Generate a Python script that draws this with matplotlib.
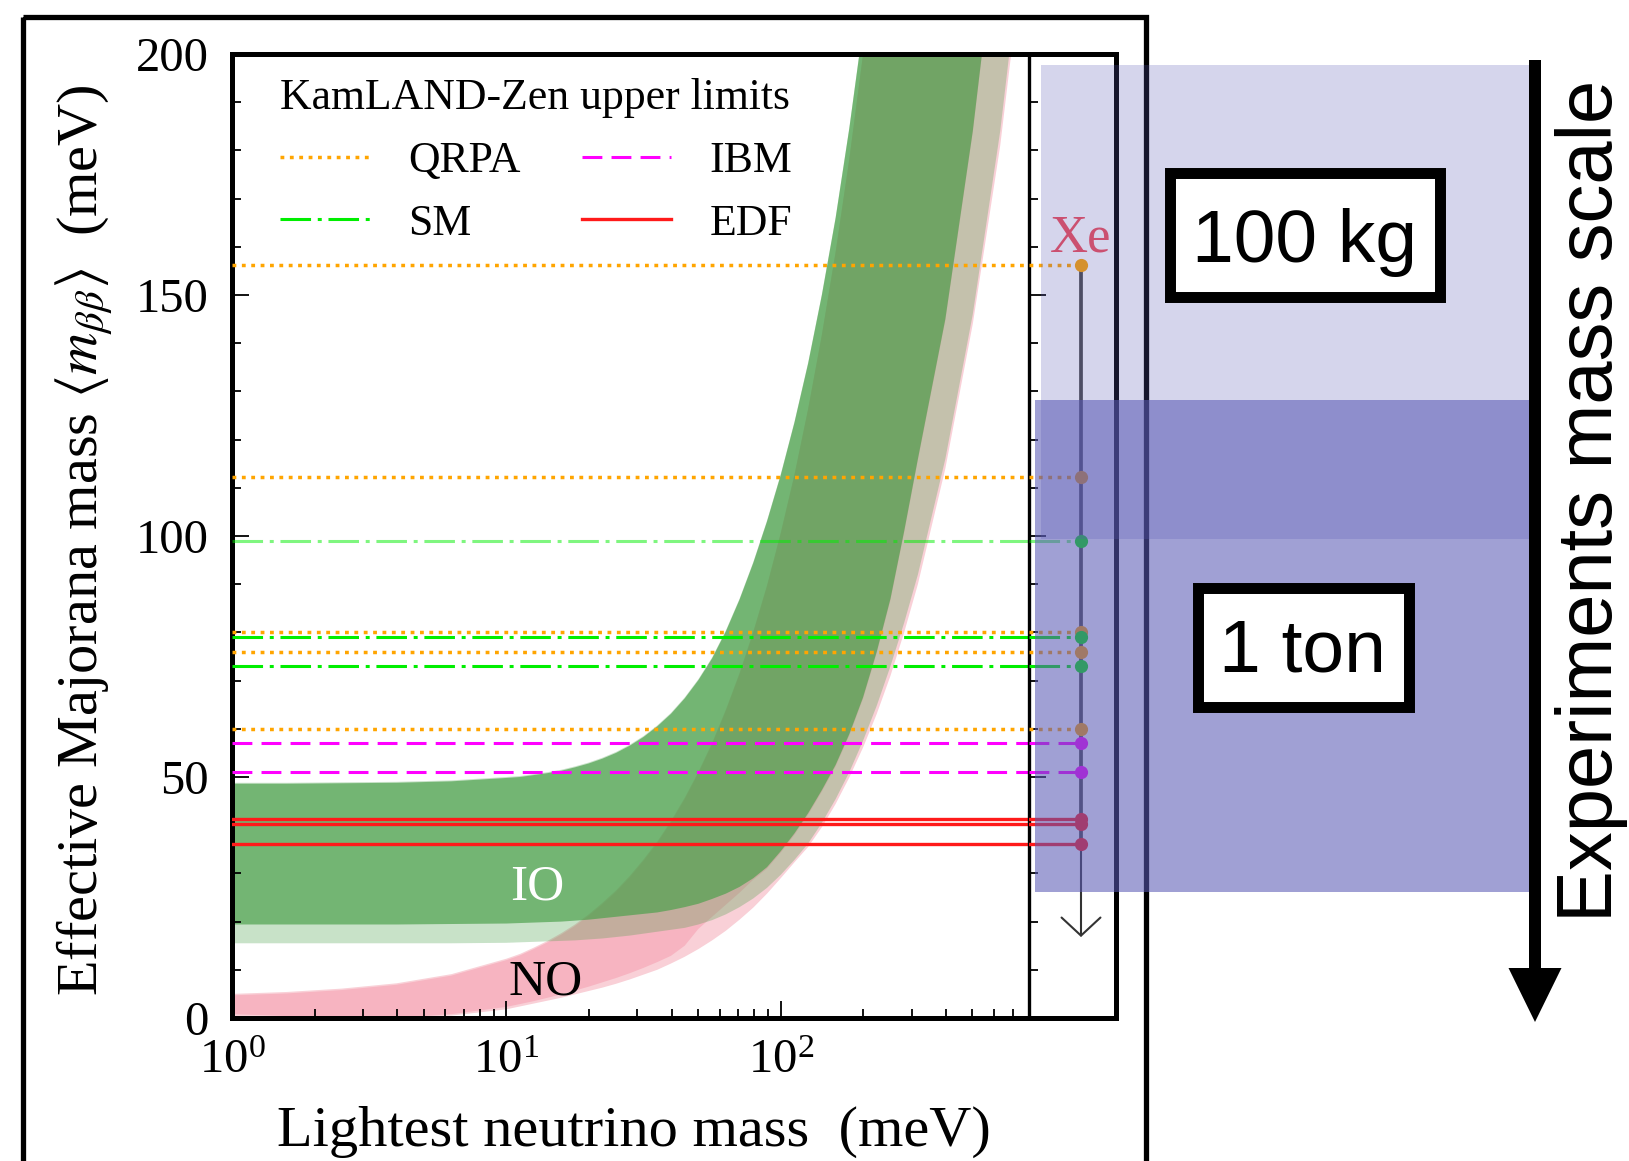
import numpy as np
import matplotlib
matplotlib.use('Agg')
import matplotlib.pyplot as plt
import matplotlib.transforms as mtransforms
from matplotlib.patches import Rectangle, FancyArrow
from matplotlib.lines import Line2D
from matplotlib.ticker import MultipleLocator, LogLocator, NullLocator

plt.rcParams['font.family'] = ['Liberation Serif', 'DejaVu Serif']
plt.rcParams['mathtext.fontset'] = 'stix'

# ---------------- data ----------------
m_lightest = [1, 1.585, 2.512, 3.981, 6.31, 10, 11.22, 12.59, 14.13, 15.85, 17.78, 19.95,
              22.39, 25.12, 28.18, 31.62, 35.48, 39.81, 44.67, 50.12, 56.23, 63.1, 70.79,
              79.43, 89.13, 100, 112.2, 125.9, 141.3, 158.5, 177.8, 199.5, 223.9, 251.2,
              281.8, 316.2, 398.1, 501.2, 631.0, 800]
io_hi = [48.6, 48.6, 48.7, 48.8, 49.1, 49.8, 50.0, 50.4, 50.8, 51.3, 52.0, 52.8, 53.8, 55.0,
         56.5, 58.3, 60.5, 63.1, 66.3, 70.1, 74.6, 80.2, 86.8, 94.4, 103.0, 112.6, 123.5,
         135.8, 150.0, 165.9, 184.5, 205.5, 229.2, 255.9, 286.1, 320.0, 401.2, 503.6, 632.9,
         801.6]
io_lo = [19.4, 19.4, 19.4, 19.4, 19.5, 19.6, 19.7, 19.8, 19.9, 20.0, 20.2, 20.4, 20.7, 21.0,
         21.3, 21.6, 21.9, 22.4, 23.0, 23.7, 24.7, 25.8, 27.2, 29.0, 31.3, 34.6, 38.3, 42.5,
         47.3, 52.5, 58.9, 66.5, 76.0, 87.0, 101.0, 116.0, 145.0, 184.0, 232.0, 294.0]
io3_hi = [48.8, 48.8, 48.9, 49.0, 49.3, 50.0, 50.2, 50.6, 51.0, 51.5, 52.2, 53.0, 54.0, 55.2,
          56.7, 58.5, 60.7, 63.3, 66.5, 70.3, 74.8, 80.4, 87.0, 94.6, 103.2, 112.8, 123.7,
          136.0, 150.2, 166.1, 184.7, 205.7, 229.4, 256.1, 286.3, 320.2, 401.4, 503.8, 633.1,
          801.8]
io3_lo = [15.5, 15.5, 15.5, 15.5, 15.5, 15.6, 15.7, 15.8, 15.9, 16.0, 16.1, 16.3, 16.5, 16.8,
          17.1, 17.5, 17.9, 18.3, 18.7, 19.4, 20.3, 21.5, 23.0, 24.8, 27.0, 29.7, 32.8, 36.2,
          40.5, 45.4, 51.0, 57.5, 64.8, 73.0, 82.0, 92.0, 116.0, 146.0, 184.0, 234.0]
no_hi = [4.7, 5.1, 5.8, 6.9, 8.8, 12.0, 13.0, 14.3, 15.7, 17.3, 19.1, 21.2, 23.6, 26.2,
         29.2, 32.6, 36.3, 40.6, 45.4, 50.8, 56.8, 63.7, 71.3, 79.9, 89.5, 100.4, 112.5,
         126.2, 141.6, 158.7, 178.0, 199.7, 224.0, 251.3, 282.0, 316.3, 398.2, 501.3, 631.1,
         800.0]
no_lo = [0.8, 0.4, 0.0, 0.0, 0.8, 2.3, 2.9, 3.5, 4.2, 4.9, 5.7, 6.5, 7.4, 8.3, 9.3, 10.4,
         11.6, 12.9, 15.0, 18.5, 21.0, 23.5, 26.0, 28.7, 31.0, 34.3, 38.0, 42.2, 47.0, 52.2,
         58.6, 66.2, 75.7, 86.7, 100.7, 115.7, 144.7, 183.7, 231.7, 293.7]
no3_hi = [5.0, 5.4, 6.1, 7.2, 9.1, 12.3, 13.3, 14.6, 16.0, 17.6, 19.4, 21.5, 23.9, 26.5,
          29.5, 32.9, 36.6, 40.9, 45.7, 51.1, 57.1, 64.0, 71.6, 80.2, 89.8, 100.7, 112.8,
          126.5, 141.9, 159.0, 178.3, 200.0, 224.3, 251.6, 282.3, 316.6, 398.5, 501.6, 631.4,
          800.3]
no3_lo = [0.0, 0.0, 0.0, 0.0, 0.5, 1.8, 2.4, 3.0, 3.6, 4.2, 4.9, 5.6, 6.3, 7.1, 8.0, 9.0,
          10.0, 11.3, 12.7, 14.3, 16.1, 18.1, 20.4, 22.9, 25.8, 29.0, 32.3, 35.5, 39.6, 44.4,
          49.9, 56.1, 63.1, 71.0, 80.0, 90.0, 114.0, 144.0, 181.0, 230.0]

models = ['QRPA', 'SM', 'IBM', 'EDF']
limits_qrpa = [156.2, 112.2, 80.1, 75.9, 60.0]
limits_sm = [99.0, 79.0, 73.0]
limits_ibm = [57.0, 51.0]
limits_edf = [41.2, 40.2, 36.0]
limits = {'QRPA': limits_qrpa, 'SM': limits_sm, 'IBM': limits_ibm, 'EDF': limits_edf}
faded = {'SM': [99.0]}
arrow_end = 16.8

styles = {
    'QRPA': dict(color='#ffa500', ls=(0, (1.1, 1.6)), lw=2.5),
    'SM': dict(color='#00ee00', ls=(0, (10, 2.2, 1.3, 2.2)), lw=2.2),
    'IBM': dict(color='#ff00ff', ls=(0, (6.5, 3)), lw=2.2),
    'EDF': dict(color='#ff1a1a', ls='-', lw=2.4),
}

# ---------------- figure ----------------
W, H = 1629, 1161
fig = plt.figure(figsize=(W / 100, H / 100), dpi=100)
px = mtransforms.Affine2D().scale(1 / W, -1 / H).translate(0, 1) + fig.transFigure


def box(x0, x1, ytop, ybot):
    return [x0 / W, 1 - ybot / H, (x1 - x0) / W, (ybot - ytop) / H]


ax = fig.add_axes(box(232, 1028.5, 54, 1018))
axs = fig.add_axes(box(1028.5, 1116, 54, 1018))

m = np.array(m_lightest)
ax.fill_between(m, no3_lo, no3_hi, color='#f9d0d7', lw=0, zorder=1)
ax.fill_between(m, no_lo, no_hi, color='#f7b4c1', lw=0, zorder=1.1)
ax.fill_between(m, io3_lo, io3_hi, color='#4ba04b', alpha=0.3, lw=0, zorder=1.2)
ax.fill_between(m, io_lo, io_hi, color='#4ba04b', alpha=0.68, lw=0, zorder=1.3)

xe = 0.60
for k in models:
    for v in limits[k]:
        a = 0.5 if v in faded.get(k, []) else 1.0
        ax.axhline(v, alpha=a, zorder=3, **styles[k])
        axs.plot([0, xe], [v, v], alpha=a, zorder=3, **styles[k])

all_vals = limits_qrpa + limits_sm + limits_ibm + limits_edf
axs.plot([xe, xe], [min(all_vals), max(all_vals)], color='#4a4a4a', lw=2.7, zorder=2)
for k in models:
    axs.plot([xe] * len(limits[k]), limits[k], 'o', color=styles[k]['color'],
             ms=9.5, mew=0, zorder=4)
axs.annotate('', xy=(xe, arrow_end), xytext=(xe, min(all_vals)),
             arrowprops=dict(arrowstyle='->,head_length=1.3,head_width=1.4',
                             color='#333333', lw=1.5, shrinkA=0, shrinkB=0))
axs.text(xe, 159.0, 'Xe', color='#f24d5a', fontsize=38, ha='center', va='baseline')

ax.text(12.97, 24.5, 'IO', color='white', fontsize=37, ha='center', va='baseline', zorder=4)
ax.text(13.87, 4.8, 'NO', color='black', fontsize=37, ha='center', va='baseline', zorder=4)

# axes styling
ax.set_xscale('log')
ax.set_xlim(1, 800)
ax.set_ylim(0, 200)
ax.xaxis.set_major_locator(LogLocator(base=10, numticks=10))
ax.xaxis.set_minor_locator(LogLocator(base=10, subs=np.arange(2, 10), numticks=20))
ax.yaxis.set_major_locator(MultipleLocator(50))
ax.yaxis.set_minor_locator(MultipleLocator(10))
ax.tick_params(which='both', direction='in', top=False, right=False, width=1.3)
ax.tick_params(which='major', length=12)
ax.tick_params(which='minor', length=6.5)
ax.tick_params(axis='y', which='major', labelsize=35, pad=17)
ax.tick_params(axis='x', which='major', labelsize=35, pad=15)
for s in ['left', 'bottom', 'top']:
    ax.spines[s].set_linewidth(3.6)
ax.spines['right'].set_visible(False)

axs.set_xlim(0, 1)
axs.set_ylim(0, 200)
axs.xaxis.set_major_locator(NullLocator())
axs.yaxis.set_major_locator(MultipleLocator(50))
axs.yaxis.set_minor_locator(MultipleLocator(10))
axs.tick_params(which='both', direction='in', left=True, right=False, labelleft=False, width=1.3)
axs.tick_params(which='major', length=12)
axs.tick_params(which='minor', length=6.5)
for s in ['right', 'bottom', 'top']:
    axs.spines[s].set_linewidth(3.6)
axs.spines['left'].set_linewidth(2.4)

handles = [Line2D([], [], **styles[k]) for k in models]
ax.legend(handles, models, ncol=2, title='KamLAND-Zen upper limits', loc='upper left',
          bbox_to_anchor=(0.0603, 0.975), frameon=False, fontsize=31.5, title_fontsize=31.5,
          handlelength=2.05, handletextpad=0.87, columnspacing=1.4, labelspacing=0.52,
          borderpad=0, borderaxespad=0, alignment='left')

# axis labels
fig.text(84, 540, 'Effective Majorana mass $\\langle m_{\\beta\\beta}\\rangle$  (meV)',
         transform=px, rotation=90, ha='center', va='center', fontsize=42)
fig.text(634, 1132, 'Lightest neutrino mass  (meV)', transform=px, ha='center',
         va='center', fontsize=42)

# outer frame
fig.add_artist(Rectangle((23, 17), 1123, 1250, transform=px, fill=False,
                         edgecolor='black', lw=3.8, zorder=1, clip_on=False))

# mass-scale overlays
C = '#5959b4'
fig.add_artist(Rectangle((1041, 65), 1529 - 1041, 539 - 65, transform=px,
                         facecolor=C, alpha=0.25, lw=0, zorder=5))
fig.add_artist(Rectangle((1035, 400), 1529 - 1035, 892 - 400, transform=px,
                         facecolor=C, alpha=0.57, lw=0, zorder=5))

sans = ['Liberation Sans', 'DejaVu Sans']
fig.add_artist(Rectangle((1170.5, 172.5), 270, 124, transform=px, facecolor='white',
                         edgecolor='black', lw=7.9, zorder=6))
fig.text(1305, 262, '100 kg', transform=px, ha='center', va='baseline', fontsize=54,
         family=sans, zorder=7)
fig.add_artist(Rectangle((1198.5, 587.5), 211, 119, transform=px, facecolor='white',
                         edgecolor='black', lw=7.9, zorder=6))
fig.text(1302, 672, '1 ton', transform=px, ha='center', va='baseline', fontsize=54,
         family=sans, zorder=7)

fig.add_artist(FancyArrow(1535, 60, 0, 962, width=12, head_width=53, head_length=54,
                          length_includes_head=True, color='black', lw=0,
                          transform=px, zorder=6))
fig.text(1612, 501, 'Experiments mass scale', transform=px, rotation=90,
         rotation_mode='anchor', ha='center', va='baseline', fontsize=56,
         family=sans, zorder=7)

fig.savefig('out.png', dpi=100)
